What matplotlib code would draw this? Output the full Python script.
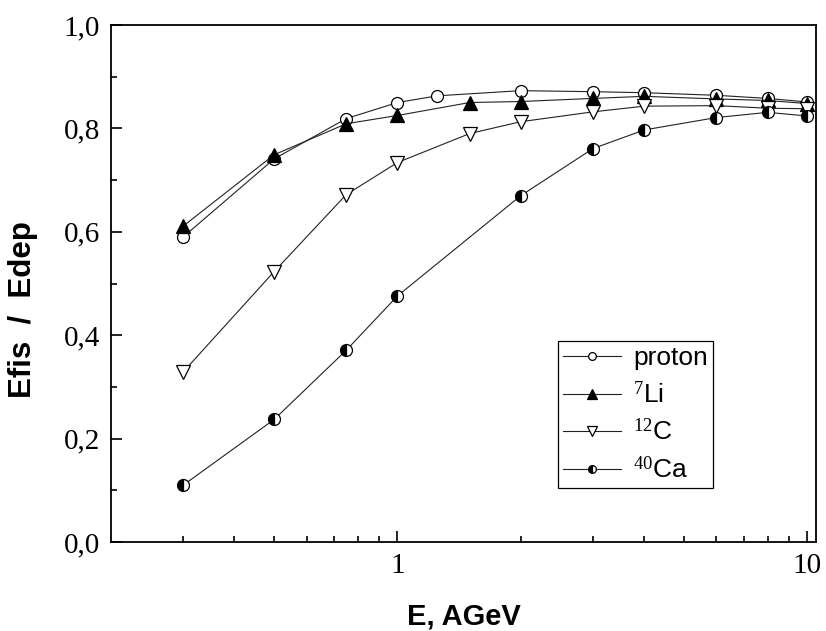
import matplotlib
matplotlib.use("Agg")
import matplotlib.pyplot as plt
from matplotlib.ticker import FixedLocator, NullFormatter, FuncFormatter, MultipleLocator

plt.rcParams['mathtext.fontset'] = 'custom'
plt.rcParams['mathtext.rm'] = 'Liberation Serif'

# energies, AGeV
e_proton = [0.3, 0.5, 0.75, 1.0, 1.25, 2.0, 3.0, 4.0, 6.0, 8.0, 10.0]
e_li = [0.3, 0.5, 0.75, 1.0, 1.5, 2.0, 3.0, 4.0, 6.0, 8.0, 10.0]
e_c = [0.3, 0.5, 0.75, 1.0, 1.5, 2.0, 3.0, 4.0, 6.0, 8.0, 10.0]
e_ca = [0.3, 0.5, 0.75, 1.0, 2.0, 3.0, 4.0, 6.0, 8.0, 10.0]

# Efis / Edep
proton = [0.590, 0.741, 0.819, 0.850, 0.863, 0.873, 0.871, 0.869, 0.864, 0.858, 0.851]
li7 = [0.611, 0.749, 0.809, 0.825, 0.850, 0.852, 0.858, 0.862, 0.857, 0.854, 0.848]
c12 = [0.329, 0.523, 0.672, 0.734, 0.790, 0.813, 0.832, 0.843, 0.844, 0.839, 0.838]
ca40 = [0.110, 0.237, 0.371, 0.476, 0.670, 0.761, 0.797, 0.821, 0.831, 0.824]

labels = ['proton', r'$\mathrm{^{7}}$Li', r'$\mathrm{^{12}}$C', r'$\mathrm{^{40}}$Ca']

fig = plt.figure(figsize=(8.26, 6.31), dpi=100)
ax = fig.add_axes([0.1344, 0.141, 0.8535, 0.8194])

lw = 0.8
ax.plot(e_proton, proton, '-', color='#222222', lw=lw, marker='o', ms=8.6,
        mfc='white', mec='black', mew=0.9, label=labels[0])
ax.plot(e_li, li7, '-', color='#222222', lw=lw, marker='^', ms=10,
        mfc='black', mec='black', mew=0.9, label=labels[1])
ax.plot(e_c, c12, '-', color='#222222', lw=lw, marker='v', ms=10,
        mfc='white', mec='black', mew=0.9, label=labels[2])
ax.plot(e_ca, ca40, '-', color='#222222', lw=lw, marker='o', ms=8.6,
        fillstyle='left', mfc='black', mfcalt='white', mec='black', mew=0.9,
        label=labels[3])

ax.set_xscale('log')
ax.set_xlim(0.2, 10.5)
ax.set_ylim(0, 1.0)

ax.xaxis.set_major_locator(FixedLocator([1, 10]))
ax.xaxis.set_major_formatter(FuncFormatter(lambda v, p: '%g' % v))
ax.xaxis.set_minor_locator(FixedLocator([0.3, 0.4, 0.5, 0.6, 0.7, 0.8, 0.9,
                                         2, 3, 4, 5, 6, 7, 8, 9]))
ax.xaxis.set_minor_formatter(NullFormatter())
ax.yaxis.set_major_locator(MultipleLocator(0.2))
ax.yaxis.set_minor_locator(MultipleLocator(0.1))
ax.yaxis.set_major_formatter(FuncFormatter(lambda v, p: ('%.1f' % v).replace('.', ',')))

ax.tick_params(which='both', direction='in', top=False, right=False, width=1.2)
ax.tick_params(which='major', length=8, pad=8)
ax.tick_params(which='minor', length=4.5)
for lab in ax.get_xticklabels() + ax.get_yticklabels():
    lab.set_fontfamily('Liberation Serif')
    lab.set_fontsize(21)
for sp in ax.spines.values():
    sp.set_linewidth(1.3)

ax.set_xlabel('E, AGeV', fontfamily='Liberation Sans', fontweight='bold',
              fontsize=21, labelpad=17)
ax.set_ylabel('Efis  /  Edep', fontfamily='Liberation Sans', fontweight='bold',
              fontsize=22.5)
ax.yaxis.set_label_coords(-0.103, 0.450)

leg = ax.legend(loc='upper left', bbox_to_anchor=(0.634, 0.389),
                prop={'family': 'Liberation Sans', 'size': 19},
                markerscale=0.65, handlelength=2.2, handletextpad=0.45,
                labelspacing=0.42, borderpad=0.2, borderaxespad=0,
                fancybox=False, edgecolor='black', framealpha=1)
leg.get_frame().set_linewidth(0.9)

fig.savefig('out.png', dpi=100)
